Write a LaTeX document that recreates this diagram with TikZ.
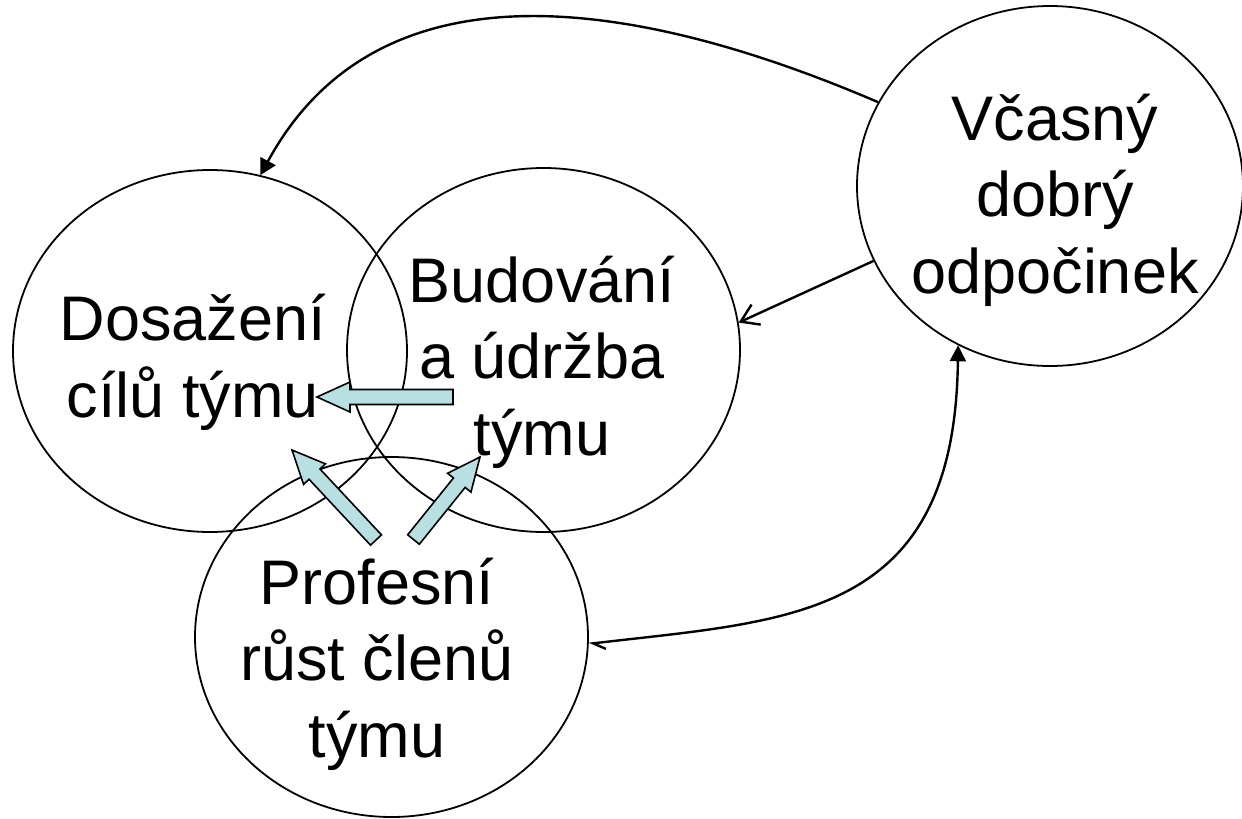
\documentclass[tikz,border=0pt]{standalone}
\usepackage{fontspec}
\setmainfont{Liberation Sans}
\usetikzlibrary{shapes.geometric,arrows.meta,calc}
\definecolor{bafill}{RGB}{184,223,226}
\tikzset{
  circ/.style={draw, ellipse, line width=1.8pt, inner sep=0pt},
  lbl/.style={align=center, anchor=base, inner sep=0pt, font=\fontsize{63}{76.5}\selectfont},
  conn/.style={line width=2.4pt},
  blockarrow/.style={draw, fill=bafill, line width=1.6pt, line join=miter},
}
\newcommand\blockarr[2]{%
  \path ($(#2)!33pt!(#1)$) coordinate (bah);
  \draw[blockarrow] ($(#1)!7.5pt!90:(#2)$) -- ($(bah)!7.5pt!-90:(#1)$) -- ($(bah)!15pt!-90:(#1)$)
    -- (#2) -- ($(bah)!15pt!90:(#1)$) -- ($(bah)!7.5pt!90:(#1)$) -- ($(#1)!7.5pt!-90:(#2)$) -- cycle;}
\begin{document}
\begin{tikzpicture}[x=1pt,y=-1pt]
\useasboundingbox (0,0) rectangle (1242,819);
% circles
\node[circ, minimum width=394pt, minimum height=362pt] (dos) at (210,351) {};
\node[circ, minimum width=393pt, minimum height=364pt] (bud) at (543.5,350) {};
\node[circ, minimum width=393pt, minimum height=360pt] (pro) at (391.5,637) {};
\node[circ, minimum width=386pt, minimum height=360pt] (vca) at (1050,186) {};
% block arrows
\coordinate (a1s) at (453,397);
\coordinate (a1t) at (317,397);
\coordinate (a2s) at (376,540);
\coordinate (a2t) at (292,450);
\coordinate (a3s) at (413.5,539.5);
\coordinate (a3t) at (480,457);
\blockarr{a1s}{a1t}
\blockarr{a2s}{a2t}
\blockarr{a3s}{a3t}
% thin connectors
\draw[conn, -{Triangle[length=16pt,width=17pt]}] (vca.154.4) .. controls (640,0) and (380,-45) .. (dos.74.7);
\draw[conn, -{Straight Barb[length=17pt,width=22pt]}] (vca.203.5) -- (bud.8.4);
\draw[conn, {Straight Barb[left,length=12pt,width=14pt]}-{Triangle[length=16pt,width=16pt]}] (pro.-2.6) .. controls (790,620) and (955,620) .. (vca.240.9);
% labels (anchor base = last line baseline)
\node[lbl] (dosT) at (193,417) {Dosažení\\cílů týmu};
\node[lbl] (budT) at (542,455) {Budování\\a údržba\\týmu};
\node[lbl] (proT) at (377,757) {Profesní\\růst členů\\týmu};
\node[lbl] (vcaT) at (1055,293) {Včasný\\dobrý\\odpočinek};
\end{tikzpicture}
\end{document}
